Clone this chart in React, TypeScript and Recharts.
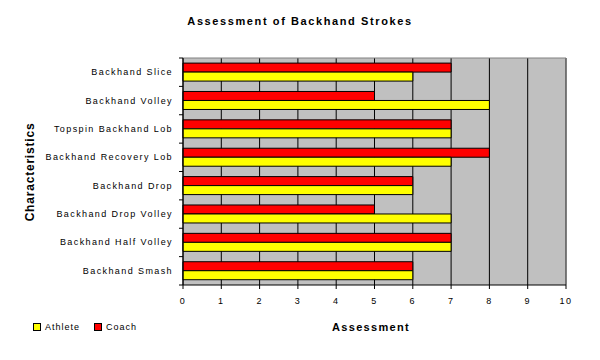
import React from 'react'
import {
  BarChart,
  Bar,
  XAxis,
  YAxis,
  CartesianGrid,
  ReferenceLine,
} from 'recharts'

// categories top to bottom
const strokes = [
  'Backhand Slice',
  'Backhand Volley',
  'Topspin Backhand Lob',
  'Backhand Recovery Lob',
  'Backhand Drop',
  'Backhand Drop Volley',
  'Backhand Half Volley',
  'Backhand Smash',
]
const coach = [7, 5, 7, 8, 6, 5, 7, 6]
const athlete = [6, 8, 7, 7, 6, 7, 7, 6]
const xTicks = [0, 1, 2, 3, 4, 5, 6, 7, 8, 9, 10]

const data = strokes.map((name, i) => ({ name, coach: coach[i], athlete: athlete[i] }))

const font = 'Arial, "Liberation Sans", sans-serif'
const tickStyle = { fill: '#000', fontSize: 9, fontFamily: font, letterSpacing: 1.4 }

const PLOT_H = 227

// category label, with the tick marks sitting on the band edges like the old excel charts
const CatTick = (props: any) => {
  const { x, y, payload, index } = props
  const h = Number(props.height) > 0 ? Number(props.height) : PLOT_H
  const half = h / strokes.length / 2
  const ax = x + 10
  return (
    <g>
      <line x1={ax - 4} x2={ax} y1={y - half} y2={y - half} stroke="#000" strokeWidth={1} />
      {index === strokes.length - 1 && (
        <line x1={ax - 4} x2={ax} y1={y + half} y2={y + half} stroke="#000" strokeWidth={1} />
      )}
      <text x={x} y={y} dy={3} textAnchor="end" fill="#000" style={tickStyle}>
        {payload.value}
      </text>
    </g>
  )
}

const Swatch = ({ color }: { color: string }) => (
  <span
    style={{
      display: 'inline-block',
      width: 6,
      height: 6,
      background: color,
      border: '1px solid #000',
      marginRight: 4,
      verticalAlign: 'middle',
    }}
  />
)

export default function App() {
  return (
    <div style={{ position: 'fixed', left: 0, top: 0, width: 600, height: 360, background: '#fff', fontFamily: font }}>
      <div
        style={{
          position: 'absolute', left: 0, top: 15, width: 600, textAlign: 'center',
          fontSize: 11, fontWeight: 'bold', letterSpacing: 1.6,
        }}
      >
        Assessment of Backhand Strokes
      </div>
      <div
        style={{
          position: 'absolute', left: 30, top: 172, transform: 'translate(-50%, -50%) rotate(-90deg)',
          fontSize: 12, fontWeight: 'bold', letterSpacing: 0.8, whiteSpace: 'nowrap',
        }}
      >
        Characteristics
      </div>
      <div
        style={{
          position: 'absolute', left: 371, top: 327, transform: 'translate(-50%, -50%)',
          fontSize: 11, fontWeight: 'bold', letterSpacing: 1.3, whiteSpace: 'nowrap',
        }}
      >
        Assessment
      </div>
      <div style={{ position: 'absolute', left: 33, top: 321, fontSize: 9, letterSpacing: 1, whiteSpace: 'nowrap' }}>
        <Swatch color="#ffff00" />
        <span style={{ verticalAlign: 'middle', marginRight: 14 }}>Athlete</span>
        <Swatch color="#ff0000" />
        <span style={{ verticalAlign: 'middle' }}>Coach</span>
      </div>
      <div style={{ position: 'absolute', left: 0, top: 0 }}>
        <BarChart
          width={600}
          height={360}
          data={data}
          layout="vertical"
          margin={{ top: 58, right: 34, bottom: 0, left: 8 }}
          barCategoryGap="18%"
          barGap={0}
        >
          <CartesianGrid horizontal={false} stroke="#000" fill="#c0c0c0" />
          <CartesianGrid
            vertical={false}
            stroke="#808080"
            horizontalCoordinatesGenerator={({ offset }: any) => [offset.top]}
          />
          <XAxis
            type="number"
            domain={[0, 10]}
            ticks={xTicks}
            interval={0}
            height={75}
            tick={tickStyle}
            tickSize={4}
            tickMargin={9}
            axisLine={{ stroke: '#000' }}
            tickLine={{ stroke: '#000' }}
          />
          <YAxis
            type="category"
            dataKey="name"
            width={175}
            tick={<CatTick />}
            tickLine={false}
            axisLine={{ stroke: '#000' }}
            tickSize={0}
            tickMargin={10}
            interval={0}
          />
          <ReferenceLine x={10} stroke="#808080" />
          <Bar dataKey="coach" fill="#ff0000" stroke="#000" strokeWidth={1} isAnimationActive={false} />
          <Bar dataKey="athlete" fill="#ffff00" stroke="#000" strokeWidth={1} isAnimationActive={false} />
        </BarChart>
      </div>
    </div>
  )
}
